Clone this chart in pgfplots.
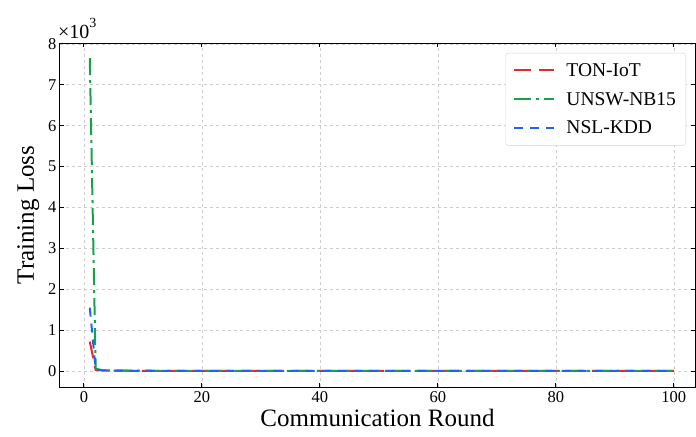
\documentclass[border=0pt]{standalone}
\usepackage{fontspec}
\setmainfont{Liberation Serif}
\usepackage{pgfplots}
\pgfplotsset{compat=1.18}
\usepackage{pgfplotstable}
\definecolor{cred}{RGB}{232,40,40}
\definecolor{cgreen}{RGB}{25,160,75}
\definecolor{cblue}{RGB}{30,100,240}

\pgfplotstableread{
round ton unsw nsl
1 720 7650 1550
2 30 55 40
3 18 25 20
4 12 16 14
5 10 13 11
6 9 11 9
7 8 10 8
8 7 9 7
9 7 9 7
10 6 8 6
11 6 8 6
12 6 7 6
13 5 7 5
14 5 7 5
15 5 7 5
16 5 6 5
17 5 6 5
18 4 6 5
19 4 6 4
20 4 6 4
21 4 5 4
22 4 5 4
23 4 5 4
24 4 5 4
25 4 5 4
26 4 5 4
27 4 5 4
28 4 5 4
29 4 5 4
30 4 5 4
31 4 5 4
32 3 5 4
33 4 5 3
34 3 5 4
35 4 5 3
36 3 5 4
37 4 5 3
38 3 5 4
39 4 5 3
40 3 5 4
41 4 5 3
42 3 5 4
43 4 5 3
44 3 5 4
45 4 5 3
46 3 5 4
47 4 5 3
48 3 5 4
49 4 5 3
50 3 5 3
51 3 4 3
52 3 4 3
53 3 4 3
54 3 4 3
55 3 4 3
56 3 4 3
57 3 4 3
58 3 4 3
59 3 4 3
60 3 4 3
61 3 4 3
62 3 4 3
63 3 4 3
64 3 4 3
65 3 4 3
66 3 4 3
67 3 4 3
68 3 4 3
69 3 4 3
70 3 4 3
71 3 4 3
72 3 4 3
73 3 4 3
74 3 4 3
75 3 4 3
76 3 4 3
77 3 4 3
78 3 4 3
79 3 4 3
80 3 4 3
81 3 4 3
82 3 4 3
83 3 4 3
84 3 4 3
85 3 4 3
86 3 4 3
87 3 4 3
88 3 4 3
89 3 4 3
90 3 4 3
91 3 4 3
92 3 4 3
93 3 4 3
94 3 4 3
95 3 4 3
96 3 4 3
97 3 4 3
98 3 4 3
99 3 4 3
100 3 4 3
}\losstable

\begin{document}
\begin{tikzpicture}
\begin{axis}[name=ax, scale only axis, width=635pt, height=344pt,
 xmin=-4.05, xmax=103.6, ymin=-390, ymax=8020,
 xtick={0,20,...,100}, ytick={0,1000,2000,3000,4000,5000,6000,7000,8000},
 yticklabels={0,1,2,3,4,5,6,7,8},
 scaled y ticks=false,
 tick align=inside, major tick length=4pt,
 tick style={black, line width=0.8pt},
 axis line style={line width=1pt},
 grid=major, major grid style={dashed, gray!40, line width=0.5pt},
 ticklabel style={font=\fontsize{16.5}{20}\selectfont},
 xticklabel style={yshift=-1pt},
 /pgf/number format/assume math mode=true,
 xlabel={Communication Round}, ylabel={Training Loss},
 label style={font=\fontsize{25}{30}\selectfont},
 ylabel shift=2pt,
 legend style={at={(0.986,0.971)}, anchor=north east, draw=gray!35,
   rounded corners=3pt, font=\fontsize{19.5}{23}\selectfont,
   row sep=10.5pt, column sep=9pt, inner xsep=8pt, inner ysep=8pt},
 legend cell align=left,
 legend image code/.code={\draw[#1] plot coordinates {(0pt,0pt) (40pt,0pt)};},
 clip=false,
]
\addplot[cred, line width=2pt, dash pattern=on 17pt off 8pt] table[x=round, y=ton] {\losstable};
\addlegendentry{TON-IoT}
\addplot[cgreen, line width=2pt, dash pattern=on 17pt off 5pt on 3pt off 5pt] table[x=round, y=unsw] {\losstable};
\addlegendentry{UNSW-NB15}
\addplot[cblue, line width=2pt, dash pattern=on 9pt off 7pt] table[x=round, y=nsl] {\losstable};
\addlegendentry{NSL-KDD}
\node[anchor=south west, inner sep=0pt, font=\fontsize{20}{24}\selectfont] at ([xshift=-2pt,yshift=4pt]rel axis cs:0,1) {×10\raisebox{0.55em}{\fontsize{14}{16}\selectfont 3}};
\end{axis}
\pgfresetboundingbox
\path[use as bounding box] ([xshift=-60pt,yshift=-49pt]ax.south west) rectangle ([xshift=1pt,yshift=43pt]ax.north east);
\end{tikzpicture}
\end{document}
